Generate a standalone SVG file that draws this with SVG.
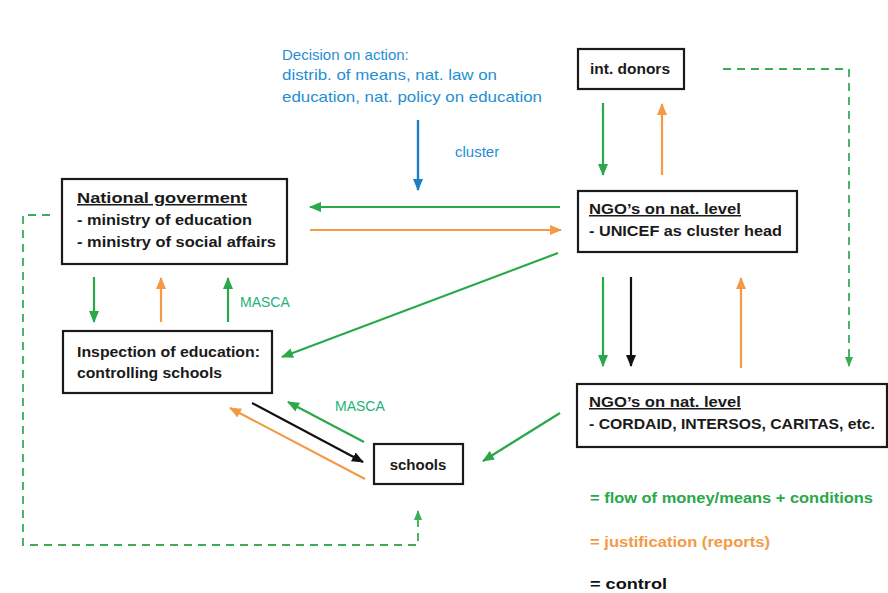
<svg xmlns="http://www.w3.org/2000/svg" width="888" height="593" viewBox="0 0 888 593">
<style>
.box{fill:#fff;stroke:#1a1a1a;stroke-width:2.2}
.t{font-family:"Liberation Sans",Arial,sans-serif;font-size:15px;font-weight:bold;fill:#1a1a1a}
.tm{font-family:"Liberation Sans",Arial,sans-serif;font-size:15px;fill:#1a1a1a;font-weight:bold}
.blue{font-family:"Liberation Sans",Arial,sans-serif;font-size:15px;fill:#1f8fd2}
.masca{font-family:"Liberation Sans",Arial,sans-serif;font-size:14px;fill:#25b07a}
.g{stroke:#2aa84a;stroke-width:2.2;fill:none}
.o{stroke:#f29a45;stroke-width:2.2;fill:none}
.k{stroke:#111;stroke-width:2.2;fill:none}
.b{stroke:#1f7fc4;stroke-width:2.4;fill:none}
.gd{stroke:#3aad55;stroke-width:1.8;fill:none;stroke-dasharray:8 6}
.lg{font-family:"Liberation Sans",Arial,sans-serif;font-size:14px;font-weight:bold}
</style>
<defs>
<marker id="ag" markerWidth="12" markerHeight="10" refX="11" refY="5" orient="auto" markerUnits="userSpaceOnUse"><path d="M0,0 L12,5 L0,10 Z" fill="#2aa84a"/></marker>
<marker id="ao" markerWidth="12" markerHeight="10" refX="11" refY="5" orient="auto" markerUnits="userSpaceOnUse"><path d="M0,0 L12,5 L0,10 Z" fill="#f29a45"/></marker>
<marker id="ak" markerWidth="12" markerHeight="10" refX="11" refY="5" orient="auto" markerUnits="userSpaceOnUse"><path d="M0,0 L12,5 L0,10 Z" fill="#111"/></marker>
<marker id="ab" markerWidth="12" markerHeight="10" refX="11" refY="5" orient="auto" markerUnits="userSpaceOnUse"><path d="M0,0 L12,5 L0,10 Z" fill="#1f7fc4"/></marker>
<marker id="agd" markerWidth="10" markerHeight="8" refX="9" refY="4" orient="auto" markerUnits="userSpaceOnUse"><path d="M0,0 L10,4 L0,8 Z" fill="#3aad55"/></marker>
</defs>
<rect width="888" height="593" fill="#fff"/>

<g id="decision">
<text class="blue" x="282" y="60">Decision on action:</text>
<text class="blue" x="282" y="80" textLength="215" lengthAdjust="spacingAndGlyphs">distrib. of means, nat. law on</text>
<text class="blue" x="282" y="102" textLength="260" lengthAdjust="spacingAndGlyphs">education, nat. policy on education</text>
</g>

<g id="natgov">
<rect class="box" x="62" y="179" width="225" height="85"/>
<text class="t" x="77" y="203" textLength="170" lengthAdjust="spacingAndGlyphs" text-decoration="underline">National goverment</text>
<text class="t" x="77" y="225" textLength="175" lengthAdjust="spacingAndGlyphs">- ministry of education</text>
<text class="t" x="77" y="247" textLength="199" lengthAdjust="spacingAndGlyphs">- ministry of social affairs</text>
</g>

<g id="inspection">
<rect class="box" x="63" y="331" width="209" height="62"/>
<text class="tm" x="77" y="357" textLength="183" lengthAdjust="spacingAndGlyphs">Inspection of education:</text>
<text class="tm" x="77" y="378" textLength="145" lengthAdjust="spacingAndGlyphs">controlling schools</text>
</g>

<g id="donors">
<rect class="box" x="578" y="49" width="106" height="40"/>
<text class="t" x="590" y="74" textLength="80" lengthAdjust="spacingAndGlyphs">int. donors</text>
</g>

<g id="ngo1">
<rect class="box" x="578" y="191" width="219" height="61"/>
<text class="t" x="589" y="214" textLength="152" lengthAdjust="spacingAndGlyphs" text-decoration="underline">NGO’s on nat. level</text>
<text class="t" x="589" y="236" textLength="193" lengthAdjust="spacingAndGlyphs">- UNICEF as cluster head</text>
</g>

<g id="ngo2">
<rect class="box" x="577" y="384" width="310" height="63"/>
<text class="t" x="589" y="407" textLength="152" lengthAdjust="spacingAndGlyphs" text-decoration="underline">NGO’s on nat. level</text>
<text class="t" x="589" y="429" textLength="286" lengthAdjust="spacingAndGlyphs">- CORDAID, INTERSOS, CARITAS, etc.</text>
</g>

<g id="schools">
<rect class="box" x="374" y="444" width="89" height="40"/>
<text class="t" x="418" y="470" text-anchor="middle">schools</text>
</g>

<g id="connectors">
<line class="b" x1="418" y1="120" x2="418" y2="190" marker-end="url(#ab)"/>
<text class="blue" x="455" y="157" font-size="14">cluster</text>

<line class="g" x1="603" y1="103" x2="603" y2="175" marker-end="url(#ag)"/>
<line class="o" x1="662" y1="175" x2="662" y2="104" marker-end="url(#ao)"/>

<line class="g" x1="560" y1="207" x2="310" y2="207" marker-end="url(#ag)"/>
<line class="o" x1="310" y1="230" x2="561" y2="230" marker-end="url(#ao)"/>
<line class="g" x1="558" y1="253" x2="282" y2="357" marker-end="url(#ag)"/>

<line class="g" x1="94" y1="277" x2="94" y2="322" marker-end="url(#ag)"/>
<line class="o" x1="161" y1="322" x2="161" y2="278" marker-end="url(#ao)"/>
<line class="g" x1="228" y1="322" x2="228" y2="278" marker-end="url(#ag)"/>
<text class="masca" x="240" y="307">MASCA</text>

<line class="g" x1="603" y1="277" x2="603" y2="366" marker-end="url(#ag)"/>
<line class="k" x1="631" y1="277" x2="631" y2="366" marker-end="url(#ak)"/>
<line class="o" x1="741" y1="368" x2="741" y2="278" marker-end="url(#ao)"/>

<line class="k" x1="252" y1="403" x2="363" y2="462" marker-end="url(#ak)"/>
<line class="o" x1="365" y1="479" x2="230" y2="408" marker-end="url(#ao)"/>
<line class="g" x1="364" y1="442" x2="288" y2="402" marker-end="url(#ag)"/>
<text class="masca" x="335" y="411">MASCA</text>

<line class="g" x1="560" y1="413" x2="483" y2="461" marker-end="url(#ag)"/>

<path class="gd" d="M723,69 H849 V366" marker-end="url(#agd)"/>
<path class="gd" d="M50,215 H23 V545 H418 V511" marker-end="url(#agd)"/>
</g>

<g id="legend">
<text class="lg" x="590" y="503" fill="#2aa84a" textLength="283" lengthAdjust="spacingAndGlyphs">= flow of money/means + conditions</text>
<text class="lg" x="590" y="547" fill="#f29a45" textLength="180" lengthAdjust="spacingAndGlyphs">= justification (reports)</text>
<text class="lg" x="590" y="589" fill="#111" textLength="77" lengthAdjust="spacingAndGlyphs">= control</text>
</g>
</svg>
